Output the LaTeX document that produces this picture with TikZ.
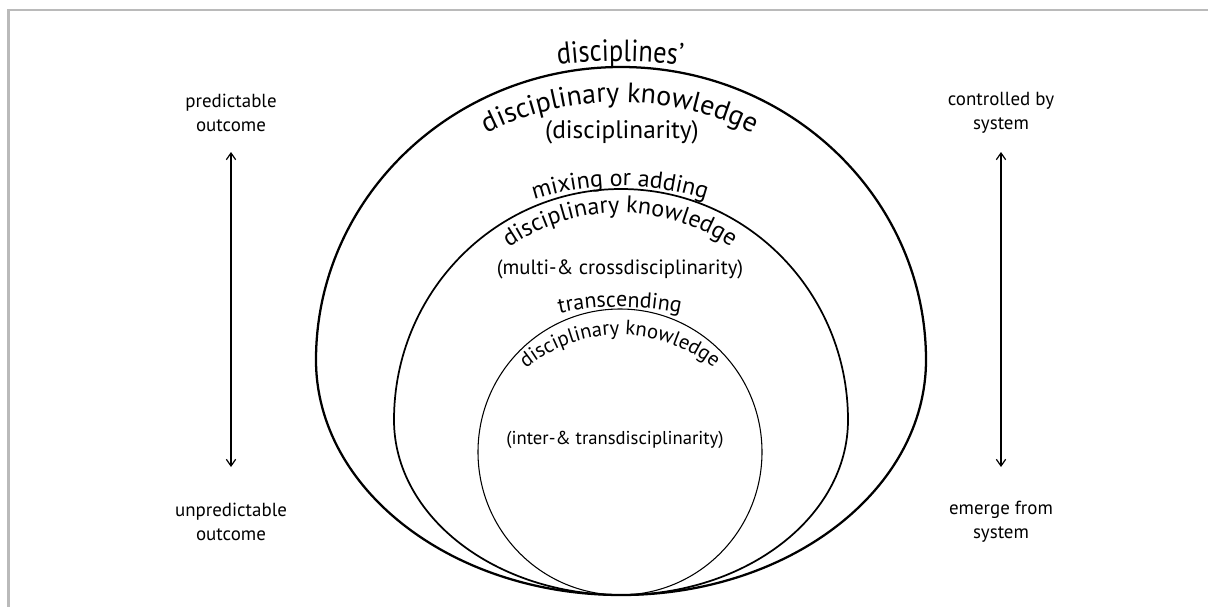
\documentclass[tikz,border=0pt]{standalone}
\usepackage{fontspec}
\setmainfont{PT Sans}
\newfontfamily\tightfont{PT Sans}[FakeStretch=0.86]
\usetikzlibrary{arrows.meta,decorations.text}

\newcommand\topfont{\tightfont\fontsize{23}{26}\selectfont}
\newcommand\outerfont{\fontsize{21}{24}\selectfont}
\newcommand\middlefont{\fontsize{18}{21}\selectfont}
\newcommand\innerfont{\fontsize{15.5}{18}\selectfont}

\tikzset{
  side label/.style={align=center, font=\fontsize{14.2}{18}\selectfont},
  twoway/.style={{Straight Barb[length=5pt,width=7pt]}-{Straight Barb[length=5pt,width=7pt]}, line width=0.9pt},
  arc label/.style 2 args={decorate, decoration={text along path, text align=center, text={|#1|#2}}},
  frame/.style={draw=black!27, line width=1.8pt},
}

\begin{document}
\begin{tikzpicture}[x=0.75pt,y=0.75pt]
  \useasboundingbox (0,0) rectangle (1208,-607);
  % grey frame, top and left only
  \draw[frame] (8.5,-607) -- (8.5,-10) -- (1208,-10);

  % the three nested rings, slightly egg shaped, all touching at the bottom
  \draw[line width=1.7pt] (316,-360)
    arc[start angle=180, end angle=0, x radius=305, y radius=293]
    arc[start angle=0, end angle=-180, x radius=305, y radius=235] -- cycle;
  \draw[line width=1.3pt] (394,-420)
    arc[start angle=180, end angle=0, x radius=227, y radius=231]
    arc[start angle=0, end angle=-180, x radius=227, y radius=175] -- cycle;
  \draw[line width=0.8pt] (620,-452) ellipse [x radius=142, y radius=143];

  % outer ring
  \path[arc label={\topfont}{disciplines’}]
    ([shift={(105:500)}]620,-561) arc[start angle=105, end angle=75, radius=500];
  \path[arc label={\outerfont}{disciplinary knowledge}]
    ([shift={(145:300)}]620,-402) arc[start angle=145, end angle=35, radius=300];
  \node[font=\fontsize{19}{22}\selectfont] (discip) at (622,-132) {(disciplinarity)};

  % middle ring
  \path[arc label={\middlefont}{mixing or adding}]
    ([shift={(130:277)}]620,-463) arc[start angle=130, end angle=50, radius=277];
  \path[arc label={\middlefont}{disciplinary knowledge}]
    ([shift={(165:197)}]620,-410) arc[start angle=165, end angle=15, radius=197];
  \node[font=\fontsize{15.5}{18}\selectfont] (multi) at (620,-269) {(multi-\& crossdisciplinarity)};

  % inner ring
  \path[arc label={\fontsize{16.5}{19}\selectfont}{transcending}]
    ([shift={(110:300)}]620,-607) arc[start angle=110, end angle=70, radius=300];
  \path[arc label={\innerfont}{disciplinary knowledge}]
    ([shift={(165:149)}]620,-484) arc[start angle=165, end angle=15, radius=149];
  \node[font=\fontsize{14}{17}\selectfont] (inter) at (615,-440) {(inter-\& transdisciplinarity)};

  % left scale
  \node[side label] (predict) at (231,-113) {predictable\\outcome};
  \node[side label] (unpredict) at (231,-522) {unpredictable\\outcome};
  \coordinate (predtip) at (231,-152);
  \coordinate (unpredtip) at (231,-467);
  \draw[twoway] (predtip) -- (unpredtip);

  % right scale
  \node[side label] (control) at (1001,-113) {controlled by\\system};
  \node[side label] (emerge) at (1001,-522) {emerge from\\system};
  \coordinate (controltip) at (1001,-152);
  \coordinate (emergetip) at (1001,-467);
  \draw[twoway] (controltip) -- (emergetip);
\end{tikzpicture}
\end{document}
